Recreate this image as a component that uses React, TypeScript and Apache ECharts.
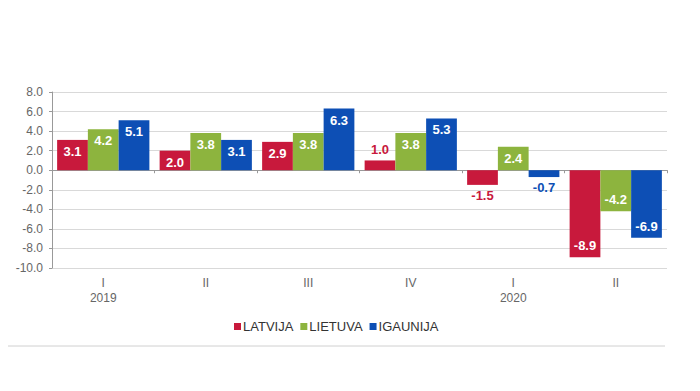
import React, { useEffect, useRef } from "react";
import * as echarts from "echarts";

const categories = ["I\n2019", "II", "III", "IV", "I\n2020", "II"];
const latvija = [3.1, 2.0, 2.9, 1.0, -1.5, -8.9];
const lietuva = [4.2, 3.8, 3.8, 3.8, 2.4, -4.2];
const igaunija = [5.1, 3.1, 6.3, 5.3, -0.7, -6.9];
const seriesNames = ["LATVIJA", "LIETUVA", "IGAUNIJA"];
const colors = ["#C8193C", "#8DB43E", "#0D4FB5"];

const FONT = "Liberation Sans, Arial, sans-serif";

function makeData(values: number[], color: string) {
  return values.map((v) => {
    const small = Math.abs(v) < 1.5 || (v < 0 && Math.abs(v) < 2);
    if (small) {
      return {
        value: v,
        label: {
          position: v >= 0 ? "top" : "bottom",
          color,
          distance: 4,
        },
      };
    }
    return {
      value: v,
      label: {
        position: v >= 0 ? "insideTop" : "insideBottom",
        color: "#ffffff",
        distance: 5,
      },
    };
  });
}

export default function App() {
  const ref = useRef<HTMLDivElement>(null);
  useEffect(() => {
    if (!ref.current) return;
    const chart = echarts.init(ref.current, undefined, { renderer: "svg" });
    const vals = [latvija, lietuva, igaunija];
    chart.setOption({
      animation: false,
      grid: { left: 52, right: 33, top: 92, bottom: 123 },
      legend: {
        data: seriesNames,
        top: 315,
        left: 229,
        icon: "rect",
        itemWidth: 7,
        itemHeight: 7,
        itemGap: 7,
        textStyle: { color: "#333", fontSize: 13, fontFamily: FONT, padding: [0, 0, 0, -3] },
      },
      xAxis: [
        {
          type: "category",
          data: categories,
          position: "bottom",
          axisLine: { show: false, onZero: false },
          axisTick: { show: false },
          axisLabel: {
            color: "#666",
            fontSize: 12,
            fontFamily: FONT,
            lineHeight: 15,
            margin: 7,
          },
        },
        {
          type: "category",
          data: categories,
          position: "bottom",
          axisLine: { show: true, onZero: true, lineStyle: { color: "#999", width: 1 } },
          axisTick: { show: true, length: 3, lineStyle: { color: "#999" } },
          axisLabel: { show: false },
        },
      ],
      yAxis: {
        type: "value",
        min: -10,
        max: 8,
        interval: 2,
        axisLine: { show: true, lineStyle: { color: "#999" } },
        axisTick: { show: true, length: 3, lineStyle: { color: "#999" } },
        axisLabel: {
          color: "#666",
          fontSize: 12,
          fontFamily: FONT,
          margin: 9,
          formatter: (v: number) => v.toFixed(1),
        },
        splitLine: { show: true, lineStyle: { color: "#d9d9d9", width: 1 } },
      },
      series: seriesNames.map((name, i) => ({
        name,
        type: "bar",
        xAxisIndex: 0,
        data: makeData(vals[i], colors[i]),
        itemStyle: { color: colors[i] },
        barGap: "0%",
        barCategoryGap: "10%",
        label: {
          show: true,
          fontSize: 13,
          fontWeight: "bold",
          fontFamily: FONT,
          formatter: (p: any) => Number(p.value).toFixed(1),
        },
      })),
      graphic: [
        {
          type: "line",
          shape: { x1: 8, y1: 346, x2: 665, y2: 346 },
          style: { stroke: "#d0d0d0", lineWidth: 1 },
        },
      ],
    });
    return () => chart.dispose();
  }, []);
  return <div ref={ref} style={{ width: 700, height: 391, position: "absolute", left: 0, top: 0 }} />;
}
